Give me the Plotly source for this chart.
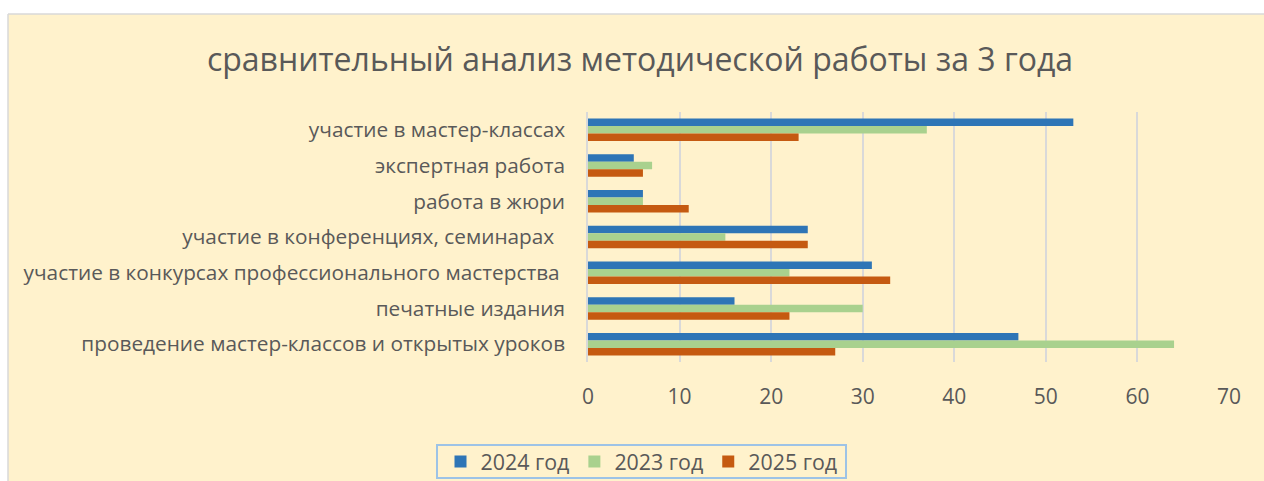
import plotly.graph_objects as go

categories = [
    "участие в мастер-классах",
    "экспертная работа",
    "работа в жюри",
    "участие в конференциях, семинарах\u00a0\u00a0",
    "участие в конкурсах профессионального мастерства\u00a0",
    "печатные издания",
    "проведение мастер-классов и открытых уроков",
]
series_names = ["2024 год", "2023 год", "2025 год"]
values_2024 = [53, 5, 6, 24, 31, 16, 47]
values_2023 = [37, 7, 6, 15, 22, 30, 64]
values_2025 = [23, 6, 11, 24, 33, 22, 27]
colors = ["#2E75B6", "#A9D18E", "#C55A11"]
x_ticks = [0, 10, 20, 30, 40, 50, 60, 70]

W, H = 1264, 481
L, R, T, B = 588, 1229, 112, 362
BG = "#FFF2CC"
TXT = "#595959"
FONT = "Open Sans"

fig = go.Figure()
for name, vals, col in zip(series_names, [values_2024, values_2023, values_2025], colors):
    fig.add_trace(go.Bar(
        y=categories, x=vals, name=name, orientation="h",
        marker=dict(color=col, line=dict(width=0)),
    ))

pw, ph = R - L, B - T
def px(x):
    return (x - L) / pw
def py(y):
    return (B - y) / ph

# white outside strips (top and left) around the chart area
fig.add_shape(type="rect", xref="paper", yref="paper", layer="below",
              x0=px(-20), x1=px(W + 30), y0=py(-20), y1=py(14),
              fillcolor="white", line=dict(width=0))
fig.add_shape(type="rect", xref="paper", yref="paper", layer="below",
              x0=px(-20), x1=px(8), y0=py(-20), y1=py(H + 30),
              fillcolor="white", line=dict(width=0))
# chart area border (top and left)
fig.add_shape(type="line", xref="paper", yref="paper", layer="below",
              x0=px(8), x1=px(W + 30), y0=py(14), y1=py(14),
              line=dict(color="#D9D9D9", width=1.5))
fig.add_shape(type="line", xref="paper", yref="paper", layer="below",
              x0=px(8), x1=px(8), y0=py(14), y1=py(H + 30),
              line=dict(color="#D9D9D9", width=1.5))
# legend frame
fig.add_shape(
    type="rect", xref="paper", yref="paper", layer="below",
    x0=px(437), x1=px(846), y0=py(445), y1=py(478),
    fillcolor=BG, line=dict(color="#9DC3E6", width=2),
)

fig.update_layout(
    width=W, height=H,
    margin=dict(l=L, r=W - R, t=T, b=H - B, pad=0),
    paper_bgcolor=BG, plot_bgcolor=BG,
    barmode="group", bargap=0.37, bargroupgap=0,
    font=dict(family=FONT, color=TXT, size=18),
    title=dict(
        text="сравнительный анализ методической работы за 3 года",
        xref="container", x=640 / W, xanchor="center",
        yref="container", y=1 - 60 / H, yanchor="middle",
        font=dict(family=FONT, size=32, color=TXT),
    ),
    xaxis=dict(
        range=[0, 70], tickvals=x_ticks, showgrid=True, gridcolor="#D9D9D9", gridwidth=1.5,
        zeroline=False, showline=False, ticks="", ticklabelstandoff=20,
        tickfont=dict(size=21, color=TXT), fixedrange=True,
    ),
    yaxis=dict(
        autorange="reversed", showgrid=False, zeroline=False, ticks="",
        showline=True, linecolor="#D9D9D9", linewidth=1.5,
        ticklabelstandoff=17, tickfont=dict(size=20.8, color=TXT), fixedrange=True,
    ),
    legend=dict(
        orientation="h", xref="container", yref="container",
        x=641.5 / W, xanchor="center", y=1 - 461.5 / H, yanchor="middle",
        bgcolor="rgba(0,0,0,0)", borderwidth=0,
        font=dict(size=21.4, color=TXT), traceorder="normal",
    ),
    showlegend=True,
)

fig.write_html(
    "out.html",
    config={"displayModeBar": False},
    post_script=(
        "document.body.style.margin='0';"
        "document.body.style.overflow='hidden';"
        "document.body.style.background='#FFF2CC';"
        "document.documentElement.style.overflow='hidden';"
    ),
)
